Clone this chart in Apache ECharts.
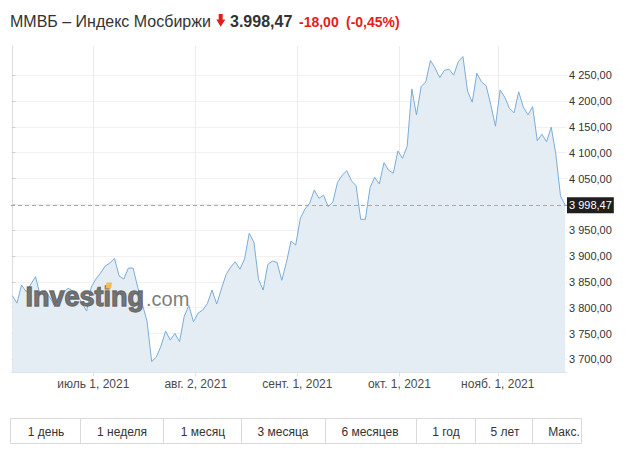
<!DOCTYPE html>
<html>
<head>
<meta charset="utf-8">
<script src="https://cdn.jsdelivr.net/npm/echarts@6/dist/echarts.min.js"></script>
<style>
  html, body { margin: 0; padding: 0; background: #fff; }
  #chart { width: 636px; height: 453px; }
</style>
</head>
<body>
<div id="chart"></div>
<script>
// ---- data ----
const values = [
  3823.2, 3809.0, 3843.9, 3830.9, 3845.8, 3860.0, 3824.5, 3834.2, 3821.2, 3805.2,
  3820.6, 3829.4, 3837.5, 3832.8, 3824.5, 3809.0, 3793.5, 3840.0, 3855.5, 3867.1,
  3880.7, 3886.5, 3895.6, 3861.3, 3855.5, 3876.8, 3876.8, 3839.4, 3806.3, 3774.2,
  3695.7, 3704.5, 3725.8, 3754.8, 3737.4, 3750.3, 3734.1, 3783.3, 3804.2, 3772.8,
  3789.7, 3795.5, 3808.4, 3834.2, 3807.1, 3836.1, 3863.8, 3878.7, 3889.0, 3874.5,
  3894.6, 3944.0, 3927.2, 3854.9, 3834.2, 3883.6, 3890.4, 3887.5, 3853.0, 3887.5,
  3929.1, 3921.3, 3973.0, 3991.1, 4001.7, 4027.9, 4011.8, 4017.8, 3995.5, 4004.6,
  4042.4, 4056.3, 4065.2, 4045.7, 4036.0, 3971.1, 3971.1, 4032.3, 4052.4, 4039.5,
  4080.7, 4066.0, 4060.2, 4103.4, 4089.2, 4112.5, 4223.4, 4173.1, 4227.9, 4237.0,
  4278.6, 4264.1, 4245.3, 4259.3, 4261.6, 4250.0, 4276.3, 4286.0, 4219.0, 4197.7,
  4253.8, 4237.0, 4229.6, 4192.5, 4151.2, 4221.5, 4207.4, 4186.1, 4177.0, 4218.0,
  4188.2, 4173.1, 4189.2, 4123.1, 4135.7, 4121.4, 4149.5, 4097.2, 4016.5, 3998.47
];
const lastPrice = 3998.47;
const yTicks = [3700, 3750, 3800, 3850, 3900, 3950, 4000, 4050, 4100, 4150, 4200, 4250];
const yLabelTicks = [3700, 3750, 3800, 3850, 3900, 3950, 4050, 4100, 4150, 4200, 4250];
// x tick positions in trading-day index units (month starts fall between points)
const xTickPos = [17.44, 39.48, 61.36, 83.32, 104.5];
const xTickLabels = ['июль 1, 2021', 'авг. 2, 2021', 'сент. 1, 2021', 'окт. 1, 2021', 'нояб. 1, 2021'];
const titleName = 'ММВБ – Индекс Мосбиржи';
const titlePrice = '3.998,47';
const titleChange = '-18,00';
const titlePct = '(-0,45%)';
const buttonLabels = ['1 день', '1 неделя', '1 месяц', '3 месяца', '6 месяцев', '1 год', '5 лет', 'Макс.'];

// ---- layout ----
const FONT = 'Arial, "Liberation Sans", sans-serif';
const btnEdges = [10.5, 80, 163, 241, 325, 416, 475, 532, 581.5];
const btnTextX = [46, 122, 203, 283, 370, 446, 505, 564];

function fmtRu(v) {
  const s = v.toFixed(2).replace('.', ',');
  return s.replace(/^(\d)(\d{3})/, '$1 $2');
}

const graphic = [];
// title
graphic.push({ type: 'text', x: 10, y: 21, style: { text: titleName, font: '16px ' + FONT, fill: '#333', verticalAlign: 'middle' } });
graphic.push({ type: 'polygon', shape: { points: [[218.7, 14], [222.7, 14], [222.7, 19.5], [225.3, 19.5], [220.7, 26.7], [216.3, 19.5], [218.7, 19.5]] }, style: { fill: '#e21d1d' } });
graphic.push({ type: 'text', x: 230, y: 21, style: { text: titlePrice, font: 'bold 16px ' + FONT, fill: '#333', verticalAlign: 'middle' } });
graphic.push({ type: 'text', x: 299, y: 22, style: { text: titleChange, font: 'bold 14px ' + FONT, fill: '#e81b1b', verticalAlign: 'middle' } });
graphic.push({ type: 'text', x: 346, y: 22, style: { text: titlePct, font: 'bold 14px ' + FONT, fill: '#e81b1b', verticalAlign: 'middle' } });
// watermark
graphic.push({ type: 'text', x: 25.5, y: 297, z: 100, style: { text: 'Investing', font: 'bold 27px ' + FONT, fill: 'rgba(100,100,100,0.9)', stroke: 'rgba(100,100,100,0.9)', lineWidth: 1.3, verticalAlign: 'middle' } });
graphic.push({ type: 'text', x: 146, y: 299, z: 100, style: { text: '.com', font: '20px ' + FONT, fill: 'rgba(100,100,100,0.85)', verticalAlign: 'middle' } });
graphic.push({ type: 'polygon', z: 101, shape: { points: [[106.5, 282.5], [112, 282.5], [111, 288.5], [105.5, 288.5]] }, style: { fill: '#f2bb55' } });
// buttons
graphic.push({ type: 'rect', shape: { x: btnEdges[0], y: 418.5, width: btnEdges[btnEdges.length - 1] - btnEdges[0], height: 25 }, style: { fill: '#fff', stroke: '#d9d9d9', lineWidth: 1 } });
for (let k = 1; k < btnEdges.length - 1; k++) {
  graphic.push({ type: 'line', shape: { x1: btnEdges[k] + 0.5, y1: 418.5, x2: btnEdges[k] + 0.5, y2: 443.5 }, style: { stroke: '#d9d9d9', lineWidth: 1 } });
}
buttonLabels.forEach((t, k) => {
  graphic.push({ type: 'text', x: btnTextX[k], y: 431.5, style: { text: t, font: '12px ' + FONT, fill: '#333', align: 'center', verticalAlign: 'middle' } });
});

const chart = echarts.init(document.getElementById('chart'), null, { renderer: 'svg' });
chart.setOption({
  animation: false,
  backgroundColor: '#fff',
  grid: { left: 11, right: 69, top: 46, bottom: 80.7, containLabel: false },
  xAxis: {
    type: 'value',
    min: -0.28,
    max: 119.4,
    axisLine: { show: true, lineStyle: { color: '#dce3ea', width: 1 } },
    axisTick: { show: true, length: 4, customValues: xTickPos, lineStyle: { color: '#e2e2e2' } },
    axisLabel: {
      customValues: xTickPos,
      margin: 6,
      color: '#4a4a4a',
      fontSize: 12,
      fontFamily: FONT,
      formatter: function (val) {
        const k = xTickPos.findIndex(p => Math.abs(p - val) < 0.01);
        return k >= 0 ? xTickLabels[k] : '';
      }
    },
    splitLine: { show: true, lineStyle: { color: '#ececec', width: 1 } }
  },
  yAxis: {
    type: 'value',
    position: 'right',
    min: 3675,
    max: 4306.5,
    axisLine: { show: true, lineStyle: { color: '#dddddd', width: 1 } },
    axisTick: { show: true, length: 3, customValues: yTicks, lineStyle: { color: '#cccccc' } },
    axisLabel: {
      customValues: yLabelTicks,
      margin: 2,
      color: '#333',
      fontSize: 11,
      fontFamily: FONT,
      formatter: fmtRu
    },
    splitLine: { show: true, lineStyle: { color: '#f1f1f1', width: 1 } }
  },
  series: [{
    type: 'line',
    data: values.map((v, i) => [i, v]),
    symbol: 'none',
    lineStyle: { color: '#7aacd8', width: 1 },
    areaStyle: { color: '#e4edf4', opacity: 1, origin: 'start' },
    markLine: {
      silent: true,
      symbol: 'none',
      lineStyle: { color: '#a8a8a8', type: [4, 3], width: 1 },
      data: [{ yAxis: lastPrice }],
      label: {
        show: true,
        position: 'end',
        distance: 0,
        formatter: fmtRu(lastPrice),
        backgroundColor: '#1f1f1f',
        color: '#fff',
        fontSize: 11,
        fontFamily: FONT,
        lineHeight: 12,
        padding: [2, 2, 2, 2]
      }
    }
  }],
  graphic: graphic
});
</script>
</body>
</html>
